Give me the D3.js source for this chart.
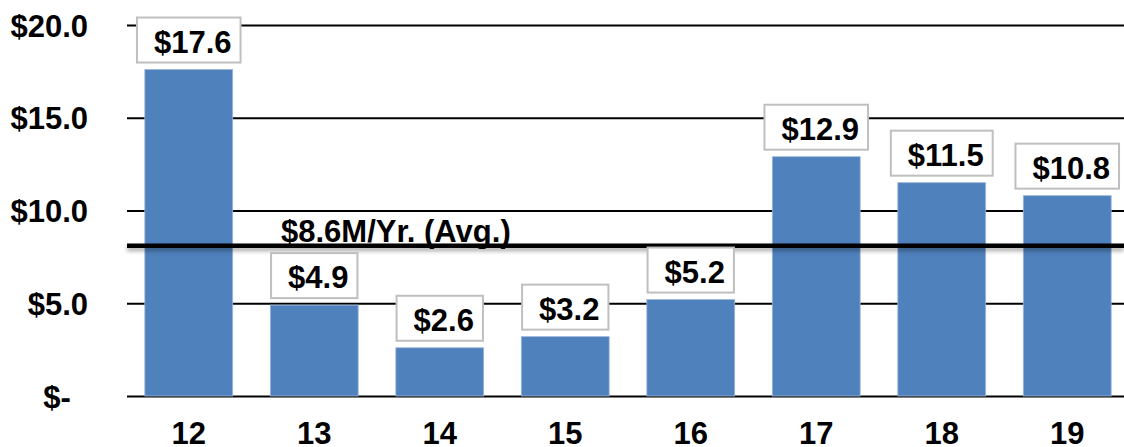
<!DOCTYPE html>
<html>
<head>
<meta charset="utf-8">
<script src="https://cdn.jsdelivr.net/npm/d3@7"></script>
<style>
  body { margin: 0; background: #fff; }
  svg text { font-family: "Liberation Sans", Arial, sans-serif; font-weight: bold; fill: #000; }
  .tick line { stroke: #000; }
</style>
</head>
<body>
<svg width="1124" height="447"></svg>
<script>
// data
const years = ["12", "13", "14", "15", "16", "17", "18", "19"];
const values = [17.6, 4.9, 2.6, 3.2, 5.2, 12.9, 11.5, 10.8];
const yTicks = [0, 5, 10, 15, 20];
const yTickLabels = ["$-  ", "$5.0", "$10.0", "$15.0", "$20.0"];
const avgValue = 8.1;
const avgLabel = "$8.6M/Yr. (Avg.)";

const plotLeft = 127;
const plotRight = 1130;
const plotTop = 25;
const plotBottom = 396;
const fontSize = 31;

const svg = d3.select("svg");

// shadow under the average line (user space, a flat line has no bbox height)
const defs = svg.append("defs");
defs.append("filter")
    .attr("id", "shadow")
    .attr("filterUnits", "userSpaceOnUse")
    .attr("x", 0).attr("y", 0)
    .attr("width", 1124).attr("height", 447)
    .append("feDropShadow")
    .attr("dx", 0).attr("dy", 3)
    .attr("stdDeviation", 2)
    .attr("flood-color", "#000")
    .attr("flood-opacity", 0.35);

const xScale = d3.scaleBand()
    .domain(years)
    .range([plotLeft - 1, plotRight])
    .paddingInner(0.3)
    .paddingOuter(0.15);

const yScale = d3.scaleLinear()
    .domain([0, 20])
    .range([plotBottom, plotTop]);

// gridlines
const grid = svg.append("g")
    .attr("transform", `translate(${plotLeft},0)`)
    .call(d3.axisLeft(yScale).tickValues(yTicks).tickSize(-(plotRight - plotLeft)).tickFormat(""));
grid.select(".domain").remove();
grid.selectAll(".tick line").attr("stroke-width", 2);

// bars
svg.append("g")
    .selectAll("rect")
    .data(values)
    .enter()
    .append("rect")
    .attr("fill", "#4f81bd")
    .attr("stroke", "#9db7da")
    .attr("stroke-width", 0.8)
    .attr("x", (d, i) => xScale(years[i]))
    .attr("width", xScale.bandwidth())
    .attr("y", d => yScale(d))
    .attr("height", d => yScale(0) - yScale(d));

// y axis labels
const yAxis = svg.append("g")
    .attr("transform", `translate(${plotLeft},0)`)
    .call(d3.axisLeft(yScale).tickValues(yTicks).tickSize(0).tickPadding(39)
        .tickFormat((d, i) => yTickLabels[i]));
yAxis.select(".domain").remove();
yAxis.selectAll("text")
    .attr("font-size", fontSize)
    .attr("dy", "0.36em")
    .style("white-space", "pre");
yAxis.attr("font-family", null).attr("font-size", null);

// x axis labels
const xAxis = svg.append("g")
    .attr("transform", `translate(0,${plotBottom})`)
    .call(d3.axisBottom(xScale).tickSize(0).tickPadding(0));
xAxis.select(".domain").remove();
xAxis.selectAll("text")
    .attr("font-size", fontSize)
    .attr("dy", null)
    .attr("y", 48);
xAxis.attr("font-family", null).attr("font-size", null);

// average line
svg.append("line")
    .attr("x1", plotLeft)
    .attr("x2", 1124)
    .attr("y1", yScale(avgValue))
    .attr("y2", yScale(avgValue))
    .attr("stroke", "#000")
    .attr("stroke-width", 4.5)
    .attr("filter", "url(#shadow)");

svg.append("text")
    .attr("x", 281)
    .attr("y", yScale(avgValue) - 4)
    .attr("font-size", fontSize)
    .text(avgLabel);

// data labels in boxes
const labels = svg.append("g")
    .selectAll("g")
    .data(values)
    .enter()
    .append("g");

labels.each(function (d, i) {
    const g = d3.select(this);
    const cx = xScale(years[i]) + xScale.bandwidth() / 2;
    const boxBottom = yScale(d) - 7;
    const rect = g.append("rect");
    const t = g.append("text")
        .attr("font-size", fontSize)
        .attr("text-anchor", "middle")
        .attr("x", cx + 4)
        .attr("y", boxBottom - 10)
        .text("$" + d.toFixed(1));
    const w = t.node().getComputedTextLength() + 26;
    rect.attr("x", cx - w / 2)
        .attr("y", boxBottom - 45)
        .attr("width", w)
        .attr("height", 45)
        .attr("fill", "#fff")
        .attr("stroke", "#bfbfbf")
        .attr("stroke-width", 2);
});
</script>
</body>
</html>
